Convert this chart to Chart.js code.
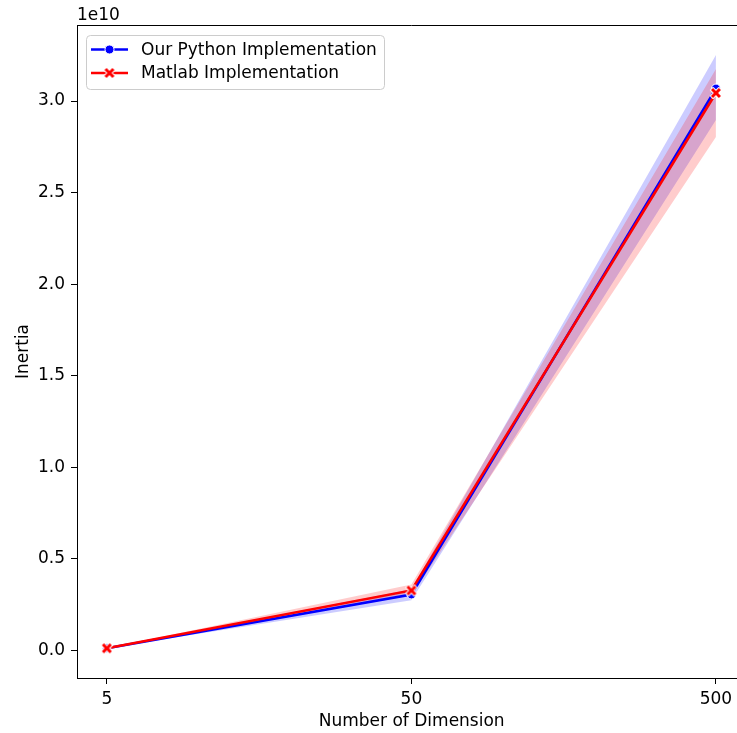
<!DOCTYPE html>
<html>
<head>
<meta charset="utf-8">
<script src="https://cdn.jsdelivr.net/npm/chart.js@4.4.1/dist/chart.umd.min.js"></script>
<style>
  html, body { margin: 0; padding: 0; background: #fff; overflow: hidden; }
  #wrap { width: 737px; height: 733px; overflow: hidden; }
  canvas { display: block; }
</style>
</head>
<body>
<div id="wrap"><canvas id="chart" width="754" height="733"></canvas></div>
<script>
// Number of dimensions tested
const dimensions = [5, 50, 500];

// Mean inertia and 95% confidence band per implementation
const pythonMean  = [0.0125e10, 0.306e10, 3.068e10];
const pythonLower = [0.0120e10, 0.275e10, 2.896e10];
const pythonUpper = [0.0130e10, 0.335e10, 3.251e10];

const matlabMean  = [0.0122e10, 0.328e10, 3.044e10];
const matlabLower = [0.0118e10, 0.300e10, 2.803e10];
const matlabUpper = [0.0126e10, 0.360e10, 3.175e10];

const yTickValues = [0, 0.5e10, 1.0e10, 1.5e10, 2.0e10, 2.5e10, 3.0e10];
const seriesNames = ['Our Python Implementation', 'Matlab Implementation'];

const FONT = '"DejaVu Sans", sans-serif';
const BLUE = '#0000ff';
const RED = '#ff0000';

// Filled "X" marker with a white edge
function makeXMarker(size, color) {
  const c = document.createElement('canvas');
  const pad = 2;
  c.width = c.height = size + pad * 2;
  const g = c.getContext('2d');
  const h = size / 2, w = size * 0.21;
  g.translate(c.width / 2, c.height / 2);
  g.beginPath();
  const pts = [
    [-h, -h + w], [-h + w, -h], [0, -w], [h - w, -h], [h, -h + w], [w, 0],
    [h, h - w], [h - w, h], [0, w], [-h + w, h], [-h, h - w], [-w, 0]
  ];
  pts.forEach((p, i) => i ? g.lineTo(p[0], p[1]) : g.moveTo(p[0], p[1]));
  g.closePath();
  g.lineWidth = 2;
  g.strokeStyle = '#ffffff';
  g.lineJoin = 'round';
  g.stroke();
  g.fillStyle = color;
  g.fill();
  return c;
}
const xMarker = makeXMarker(10, RED);

const toPoints = (ys) => dimensions.map((x, i) => ({ x, y: ys[i] }));

const bandStyle = (color) => ({
  borderWidth: 0,
  pointRadius: 0,
  pointHoverRadius: 0,
  backgroundColor: color,
  tension: 0
});

// Top spine, exponent label and an in-axes legend
const decorations = {
  id: 'decorations',
  afterDraw(chart) {
    const { ctx, chartArea } = chart;
    ctx.save();
    ctx.strokeStyle = '#000';
    ctx.lineWidth = 1;
    ctx.beginPath();
    ctx.moveTo(chartArea.left, chartArea.top + 0.5);
    ctx.lineTo(chartArea.right, chartArea.top + 0.5);
    ctx.stroke();

    ctx.fillStyle = '#000';
    ctx.font = '17px ' + FONT;
    ctx.textAlign = 'left';
    ctx.textBaseline = 'middle';
    ctx.fillText('1e10', chartArea.left, 16);

    // legend box
    const bx = 86.5, by = 35.5, bw = 298, bh = 54, r = 4;
    ctx.beginPath();
    ctx.moveTo(bx + r, by);
    ctx.arcTo(bx + bw, by, bx + bw, by + bh, r);
    ctx.arcTo(bx + bw, by + bh, bx, by + bh, r);
    ctx.arcTo(bx, by + bh, bx, by, r);
    ctx.arcTo(bx, by, bx + bw, by, r);
    ctx.closePath();
    ctx.fillStyle = 'rgba(255,255,255,0.8)';
    ctx.fill();
    ctx.strokeStyle = '#cccccc';
    ctx.lineWidth = 1;
    ctx.stroke();

    const rows = [
      { y: 49.5, color: BLUE, name: seriesNames[0], marker: 'circle' },
      { y: 73, color: RED, name: seriesNames[1], marker: 'x' }
    ];
    rows.forEach(row => {
      ctx.strokeStyle = row.color;
      ctx.lineWidth = 2.6;
      ctx.beginPath();
      ctx.moveTo(91, row.y);
      ctx.lineTo(128, row.y);
      ctx.stroke();
      if (row.marker === 'circle') {
        ctx.beginPath();
        ctx.arc(109.5, row.y, 4.5, 0, Math.PI * 2);
        ctx.fillStyle = row.color;
        ctx.fill();
        ctx.strokeStyle = '#fff';
        ctx.lineWidth = 1;
        ctx.stroke();
      } else {
        ctx.drawImage(xMarker, 109.5 - xMarker.width / 2, row.y - xMarker.height / 2);
      }
      ctx.fillStyle = '#000';
      ctx.font = '17px ' + FONT;
      ctx.textAlign = 'left';
      ctx.textBaseline = 'middle';
      ctx.fillText(row.name, 141, row.y + 1);
    });
    ctx.restore();
  }
};

new Chart(document.getElementById('chart'), {
  type: 'line',
  data: {
    datasets: [
      {
        label: seriesNames[1],
        data: toPoints(matlabMean),
        borderColor: RED,
        borderWidth: 2.6,
        pointStyle: xMarker,
        pointRadius: 5,
        fill: false,
        tension: 0
      },
      {
        label: seriesNames[0],
        data: toPoints(pythonMean),
        borderColor: BLUE,
        borderWidth: 2.6,
        pointStyle: 'circle',
        pointRadius: 4.5,
        pointBackgroundColor: BLUE,
        pointBorderColor: '#ffffff',
        pointBorderWidth: 1,
        fill: false,
        tension: 0
      },
      Object.assign({ label: 'matlab-upper', data: toPoints(matlabUpper), fill: '+1' }, bandStyle('rgba(255,0,0,0.2)')),
      Object.assign({ label: 'matlab-lower', data: toPoints(matlabLower), fill: false }, bandStyle('rgba(255,0,0,0.2)')),
      Object.assign({ label: 'python-upper', data: toPoints(pythonUpper), fill: '+1' }, bandStyle('rgba(0,0,255,0.2)')),
      Object.assign({ label: 'python-lower', data: toPoints(pythonLower), fill: false }, bandStyle('rgba(0,0,255,0.2)'))
    ]
  },
  options: {
    responsive: false,
    animation: false,
    devicePixelRatio: 1,
    layout: { padding: { top: 25, right: 2, left: 0, bottom: 0 } },
    plugins: {
      legend: { display: false },
      tooltip: { enabled: false },
      filler: { propagate: false }
    },
    scales: {
      x: {
        type: 'logarithmic',
        bounds: 'data',
        min: 3.99,
        max: 629.5,
        afterBuildTicks: (scale) => { scale.ticks = dimensions.map(v => ({ value: v })); },
        afterFit: (scale) => { scale.height = 55; },
        ticks: {
          autoSkip: false,
          maxRotation: 0,
          padding: 5,
          color: '#000',
          font: { family: FONT, size: 17 },
          callback: (v) => String(v)
        },
        grid: { drawOnChartArea: false, drawTicks: true, tickLength: 6, tickColor: '#000', tickWidth: 1 },
        border: { display: true, color: '#000', width: 1 },
        title: {
          display: true,
          text: 'Number of Dimension',
          color: '#000',
          font: { family: FONT, size: 17 },
          padding: { top: 0, bottom: 1.5 }
        }
      },
      y: {
        type: 'linear',
        bounds: 'data',
        min: -0.150e10,
        max: 3.415e10,
        afterBuildTicks: (scale) => { scale.ticks = yTickValues.map(v => ({ value: v })); },
        afterFit: (scale) => { scale.width = 77; },
        ticks: {
          padding: 6,
          color: '#000',
          font: { family: FONT, size: 17 },
          callback: (v) => (v / 1e10).toFixed(1)
        },
        grid: { drawOnChartArea: false, drawTicks: true, tickLength: 6, tickColor: '#000', tickWidth: 1 },
        border: { display: true, color: '#000', width: 1 },
        title: {
          display: true,
          text: 'Inertia',
          color: '#000',
          font: { family: FONT, size: 17 },
          padding: { top: 13, bottom: 0 }
        }
      }
    }
  },
  plugins: [decorations]
});
</script>
</body>
</html>
